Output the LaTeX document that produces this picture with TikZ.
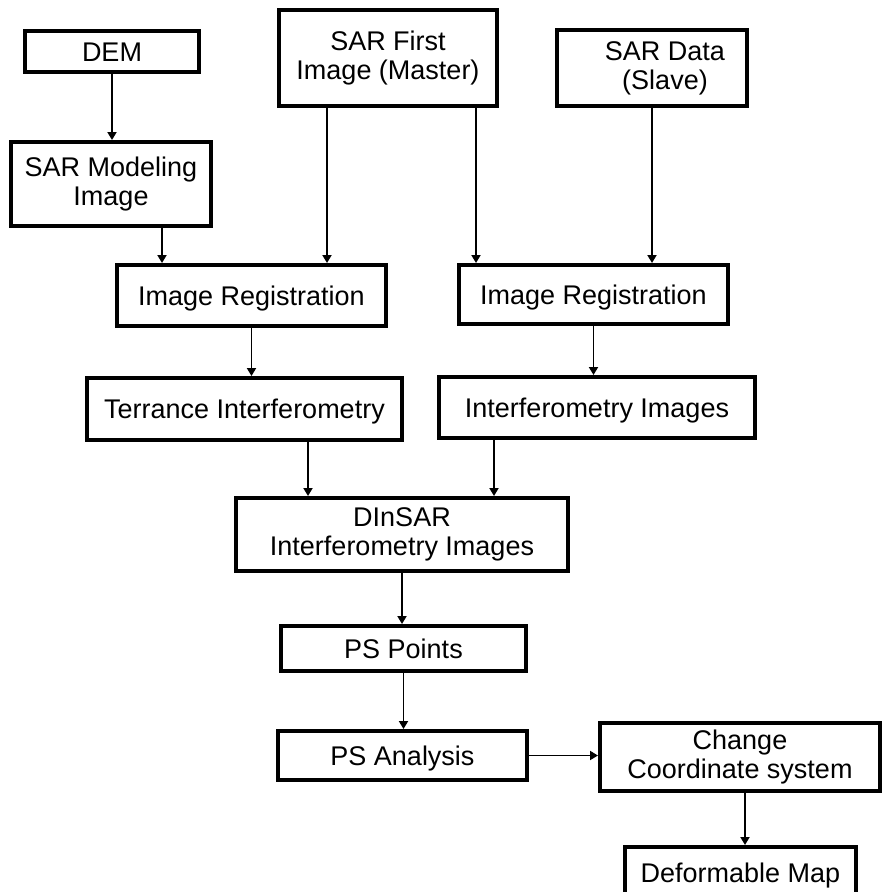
\documentclass[tikz,border=0pt]{standalone}
\usepackage{fontspec}
\setmainfont{Liberation Sans}
\usetikzlibrary{arrows.meta}
\begin{document}
\begin{tikzpicture}[x=1pt,y=-1pt,
  box/.style={draw=black, line width=4pt, fill=white, inner sep=0pt, align=center, font=\fontsize{27}{29}\selectfont},
  one/.style={text height=19.5pt, text depth=0pt},
  txt/.style={inner sep=0pt, align=center, font=\fontsize{27}{29}\selectfont},
  arr/.style={draw=black, line width=1.8pt, -{Triangle[length=8pt,width=9pt]}}]
\useasboundingbox (0,0) rectangle (883,892);
\fill[white] (0,0) rectangle (883,892);

\node[box, one, minimum width=174pt, minimum height=41pt] (dem) at (112,51.5) {DEM};
\node[box, minimum width=218pt, minimum height=96pt] (master) at (388,58) {SAR First\\Image (Master)};
\node[box, minimum width=190pt, minimum height=76pt] (slave) at (652,68) {};
\node[txt] (slavetxt) at (665,68) {SAR Data\\(Slave)};
\node[box, minimum width=200pt, minimum height=84pt] (model) at (111,184) {SAR Modeling\\Image};
\node[box, one, minimum width=269pt, minimum height=61pt] (reg1) at (251.5,295.5) {Image Registration};
\node[box, one, minimum width=269pt, minimum height=59pt] (reg2) at (593.5,294.5) {Image Registration};
\node[box, one, minimum width=315pt, minimum height=62pt] (terr) at (244.5,409) {Terrance Interferometry};
\node[box, one, minimum width=316pt, minimum height=61pt] (interf) at (597,407.5) {Interferometry Images};
\node[box, minimum width=332pt, minimum height=73pt] (dinsar) at (402,534.5) {DInSAR\\Interferometry Images};
\node[box, one, minimum width=245pt, minimum height=45pt] (psp) at (403.5,648.5) {PS Points};
\node[box, one, minimum width=249pt, minimum height=49pt] (psa) at (402.5,755.5) {PS Analysis};
\node[box, minimum width=280pt, minimum height=68pt] (chg) at (740,757) {Change\\Coordinate system};
\node[box, one, minimum width=231pt, minimum height=52pt] (defm) at (740.5,873) {Deformable Map};

\coordinate (mo) at ([xshift=51pt]model.south);
\coordinate (ma) at ([xshift=-61pt]master.south);
\coordinate (mb) at ([xshift=88pt]master.south);
\coordinate (te) at ([xshift=63.5pt]terr.south);
\coordinate (ie) at ([xshift=-103pt]interf.south);
\coordinate (ch) at ([xshift=5pt]chg.south);

\draw[arr] (dem.south) -- (dem.south |- model.north);
\draw[arr] (mo) -- (mo |- reg1.north);
\draw[arr] (ma) -- (ma |- reg1.north);
\draw[arr] (mb) -- (mb |- reg2.north);
\draw[arr] (slave.south) -- (slave.south |- reg2.north);
\draw[arr] (reg1.south) -- (reg1.south |- terr.north);
\draw[arr] (reg2.south) -- (reg2.south |- interf.north);
\draw[arr] (te) -- (te |- dinsar.north);
\draw[arr] (ie) -- (ie |- dinsar.north);
\draw[arr] (dinsar.south) -- (dinsar.south |- psp.north);
\draw[arr] (psp.south) -- (psp.south |- psa.north);
\draw[arr] (psa.east) -- (psa.east -| chg.west);
\draw[arr] (ch) -- (ch |- defm.north);
\end{tikzpicture}
\end{document}
